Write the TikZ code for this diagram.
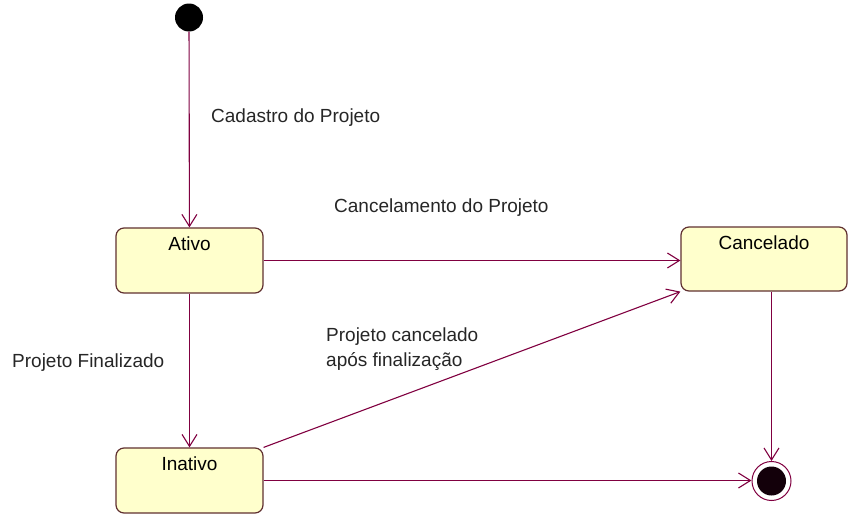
\documentclass[tikz,border=0pt]{standalone}
\usepackage{fontspec}
\setmainfont{Liberation Sans}
\usepackage{xcolor}
\usepackage{tikz}
\usetikzlibrary{arrows.meta, positioning}

\definecolor{linha}{RGB}{128,0,64}
\definecolor{borda}{RGB}{96,48,48}
\definecolor{fundo}{RGB}{255,255,204}

\begin{document}
\begin{tikzpicture}[x=1pt, y=-1pt, >={Straight Barb[length=12pt, width=15pt]},
    estado/.style={draw=borda, fill=fundo, rounded corners=8pt, line width=1.2pt,
        inner sep=0pt, minimum width=147pt, text height=22pt, text depth=43pt,
        font=\fontsize{19}{23}\selectfont},
    rotulo/.style={inner sep=0pt, anchor=west, align=left, text=black!85,
        font=\fontsize{19}{25}\selectfont},
    trans/.style={->, draw=linha, line width=1.1pt}]
    \useasboundingbox (0,0) rectangle (849,514);

    % Estados inicial e final
    \node[circle, fill=black, minimum size=28pt, inner sep=0pt] (inicio) at (189,17.5) {};
    \node[circle, draw=linha, line width=1pt, minimum size=39pt, inner sep=0pt,
        path picture={\fill[black!85!linha] (path picture bounding box.center) circle (14.5pt);}]
        (fim) at (771.5,481) {};

    % Estados do projeto
    \node[estado] (ativo) at (189.5,260.5) {Ativo};
    \node[estado, minimum width=166pt, text depth=42pt] (cancelado) at (764,259) {Cancelado};
    \node[estado] (inativo) at (189.5,480.5) {Inativo};

    % Transicoes
    \draw[trans] (inicio) -- (ativo);
    \draw[trans] (ativo.east) -- (ativo.east -| cancelado.west);
    \draw[trans] (ativo) -- (inativo);
    \draw[trans] (inativo.north east) -- (cancelado.south west);
    \draw[trans] (inativo.east) -- (inativo.east -| fim.west);
    \draw[trans] (fim |- cancelado.south) -- (fim);

    % Rotulos
    \node[rotulo] (cadastro) at (211,118) {Cadastro do Projeto};
    \node[rotulo] (cancelamento) at (334,208) {Cancelamento do Projeto};
    \node[rotulo] (aposfim) at (326,349.5) {Projeto cancelado\\após finalização};
    \node[rotulo] (finalizado) at (12,363) {Projeto Finalizado};
\end{tikzpicture}
\end{document}
